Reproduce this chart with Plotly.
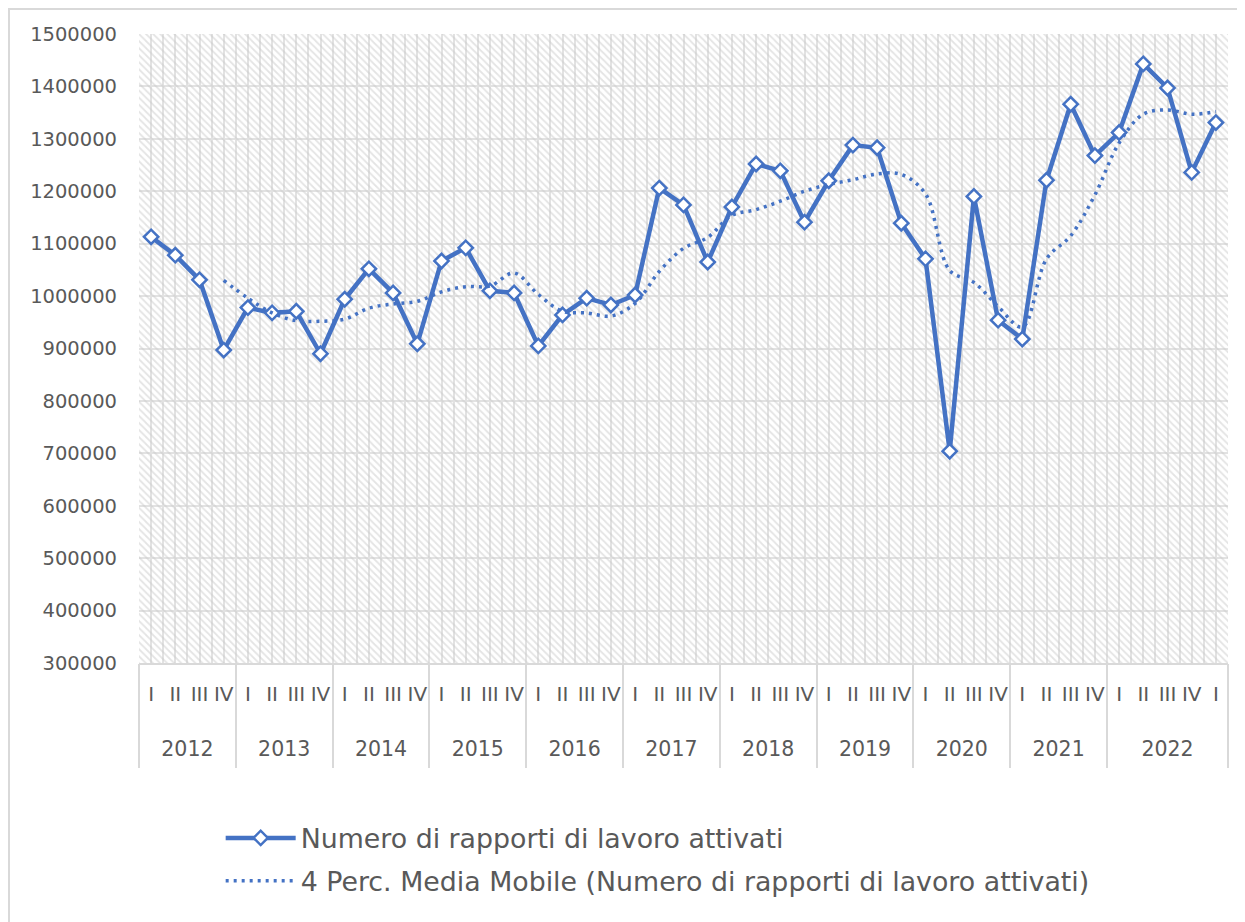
import plotly.graph_objects as go

# --- dati ---
ANNI = ["2012", "2013", "2014", "2015", "2016", "2017",
        "2018", "2019", "2020", "2021", "2022"]
TRIMESTRI = ["I", "II", "III", "IV"]
# l'ultimo gruppo "2022" ha un quinto trimestre (I del 2023) nel grafico originale
TRIMESTRI_ULTIMO = ["I", "II", "III", "IV", "I"]

rapporti_attivati = [
    1113000, 1078000, 1031000, 897000,
    978000, 968000, 971000, 890000,
    994000, 1052000, 1006000, 909000,
    1067000, 1092000, 1010000, 1006000,
    905000, 964000, 996000, 983000,
    1002000, 1206000, 1174000, 1065000,
    1170000, 1252000, 1239000, 1141000,
    1220000, 1288000, 1283000, 1139000,
    1071000, 704000, 1190000, 954000,
    918000, 1221000, 1366000, 1268000,
    1312000, 1443000, 1397000, 1236000, 1331000,
]

media_mobile = [
    None, None, None, 1030000,
    996000, 968000, 953000, 952000,
    956000, 977000, 985000, 990000,
    1008000, 1018000, 1019000, 1044000,
    1003000, 971000, 968000, 962000,
    986000, 1047000, 1091000, 1112000,
    1154000, 1165000, 1181000, 1200000,
    1213000, 1222000, 1233000, 1232000,
    1195000, 1049000, 1026000, 980000,
    941000, 1071000, 1115000, 1193000,
    1292000, 1347000, 1355000, 1347000, 1352000,
]

Y_MIN, Y_MAX = 300000, 1500000

# etichette dei trimestri e posizione dei gruppi anno
etichette_trim = []
centri_anno, confini_anno = [], [-0.5]
for anno in ANNI:
    trims = TRIMESTRI_ULTIMO if anno == ANNI[-1] else TRIMESTRI
    inizio = len(etichette_trim)
    etichette_trim.extend(trims)
    fine = len(etichette_trim) - 1
    centri_anno.append((inizio + fine) / 2)
    confini_anno.append(fine + 0.5)
n_punti = len(etichette_trim)
indici = list(range(n_punti))

BLU = "#4472C4"
GRIGIO_TESTO = "#595959"
GRIGIO_GRIGLIA = "#e2e2e2"
GRIGIO_ASSE = "#d9d9d9"
FONT = "DejaVu Sans"

fig = go.Figure()

# sfondo tratteggiato dell'area del grafico
lo, hi = -0.5, n_punti - 0.5
fig.add_trace(go.Scatter(
    x=[lo, hi, hi, lo, lo],
    y=[Y_MIN, Y_MIN, Y_MAX, Y_MAX, Y_MIN],
    mode="lines", line=dict(width=0),
    fill="toself", fillcolor="rgba(0,0,0,0)",
    fillpattern=dict(shape="\\", size=5, solidity=0.35,
                     fgcolor="#c9c9c9", bgcolor="rgba(0,0,0,0)"),
    hoverinfo="skip", showlegend=False,
))

fig.add_trace(go.Scatter(
    x=indici,
    y=rapporti_attivati,
    mode="lines+markers",
    name="Numero di rapporti di lavoro attivati",
    legendgroup="a",
    line=dict(color=BLU, width=4.5),
    marker=dict(symbol="diamond", size=11, color="white",
                line=dict(color=BLU, width=2.5)),
))

fig.add_trace(go.Scatter(
    x=indici,
    y=media_mobile,
    mode="lines",
    name="4 Perc. Media Mobile (Numero di rapporti di lavoro attivati)",
    legendgroup="b",
    line=dict(color=BLU, width=3.5, dash="3px,5px", shape="spline"),
))

# traccia vuota per attivare l'asse degli anni
fig.add_trace(go.Scatter(
    x=centri_anno, y=[None] * len(centri_anno),
    mode="lines", xaxis="x3", yaxis="y",
    hoverinfo="skip", showlegend=False,
))

W, H, OFF = 1245, 922, 8  # OFF: margine del body della pagina
PLOT_L, PLOT_T, PLOT_W, PLOT_H = 139 - OFF, 34 - OFF, 1089, 629

fig.update_layout(
    width=W - OFF, height=H - OFF,
    margin=dict(l=PLOT_L, r=17, t=PLOT_T, b=259, autoexpand=False),
    paper_bgcolor="white",
    plot_bgcolor="white",
    font=dict(family=FONT, color=GRIGIO_TESTO, size=20),
    xaxis=dict(
        range=[lo, hi],
        tickmode="array", tickvals=indici, ticktext=etichette_trim,
        ticks="", ticklabelstandoff=12,
        tickfont=dict(size=20, color=GRIGIO_TESTO),
        showgrid=True, gridcolor=GRIGIO_GRIGLIA, gridwidth=2,
        minor=dict(tickmode="array", tickvals=[i + 0.5 for i in indici],
                   showgrid=True, gridcolor=GRIGIO_GRIGLIA, gridwidth=2,
                   ticks=""),
        zeroline=False, showline=True, linecolor=GRIGIO_ASSE, linewidth=2,
    ),
    xaxis3=dict(
        overlaying="x", side="bottom", anchor="y", range=[lo, hi],
        tickmode="array", tickvals=centri_anno, ticktext=ANNI,
        ticks="", ticklabelstandoff=71,
        tickfont=dict(size=20.5, color=GRIGIO_TESTO),
        minor=dict(tickmode="array", tickvals=confini_anno,
                   ticks="outside", ticklen=104, tickwidth=2,
                   tickcolor=GRIGIO_ASSE),
        showgrid=False, zeroline=False, showline=False,
    ),
    yaxis=dict(
        range=[Y_MIN, Y_MAX], dtick=100000, tickformat="d",
        showgrid=True, gridcolor=GRIGIO_GRIGLIA, gridwidth=2,
        zeroline=False, showline=False,
        tickfont=dict(size=19.5, color=GRIGIO_TESTO),
        ticklabelstandoff=21,
    ),
    legend=dict(
        x=0.075, y=-0.24, xanchor="left", yanchor="top",
        orientation="v", itemwidth=70, tracegroupgap=5,
        font=dict(size=26.8, color=GRIGIO_TESTO),
        bgcolor="rgba(0,0,0,0)",
    ),
    shapes=[dict(
        type="rect", xref="paper", yref="paper",
        x0=(1 - PLOT_L) / PLOT_W, x1=1.05,
        y0=-0.45, y1=(PLOT_T + PLOT_H - 1) / PLOT_H,
        line=dict(color=GRIGIO_ASSE, width=2), fillcolor="rgba(0,0,0,0)",
        layer="below",
    )],
)

fig.write_html("out.html")
